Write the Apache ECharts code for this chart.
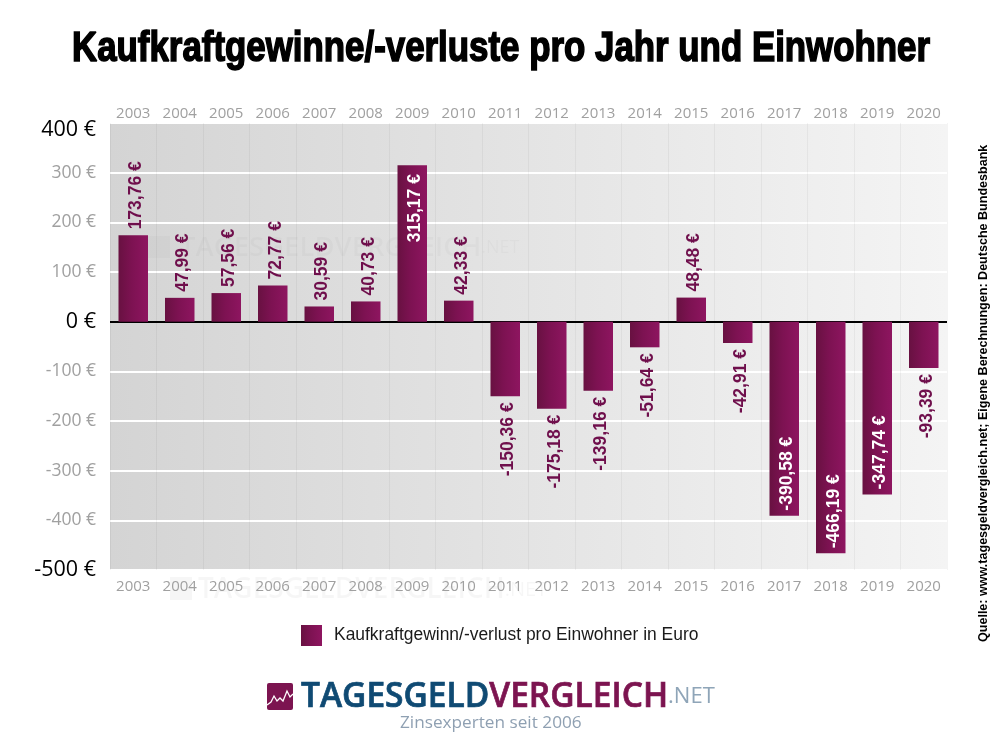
<!DOCTYPE html>
<html>
<head>
<meta charset="utf-8">
<title>Kaufkraftgewinne/-verluste</title>
<script src="https://cdn.jsdelivr.net/npm/echarts@6/dist/echarts.min.js"></script>
<style>
html, body { margin: 0; padding: 0; background: #fff; }
#charts { width: 1000px; height: 754px; }
</style>
</head>
<body>
<div id="charts"></div>
<script>
var years = ['2003', '2004', '2005', '2006', '2007', '2008', '2009', '2010', '2011', '2012', '2013', '2014', '2015', '2016', '2017', '2018', '2019', '2020'];
var values = [173.76, 47.99, 57.56, 72.77, 30.59, 40.73, 315.17, 42.33, -150.36, -175.18, -139.16, -51.64, 48.48, -42.91, -390.58, -466.19, -347.74, -93.39];
var seriesName = 'Kaufkraftgewinn/-verlust pro Einwohner in Euro';
var blackTicks = [0, -500];
var topTick = 400;

function euro(v) {
    return v.toFixed(2).replace('.', ',') + ' €';
}

// label sits inside the bar only for the long ones
function labelFor(v) {
    var inside = Math.abs(v) > 300;
    var pos;
    if (v >= 0) {
        pos = inside ? 'insideTop' : 'top';
    } else {
        pos = inside ? 'insideBottom' : 'bottom';
    }
    return {
        show: true,
        position: pos,
        distance: inside ? (v > 0 ? 9 : 5) : 6,
        offset: [0, 3], // rotated label, so this moves it to the right
        rotate: 90,
        align: (pos === 'top' || pos === 'insideBottom') ? 'left' : 'right',
        verticalAlign: 'middle',
        color: inside ? '#ffffff' : '#6f0f4c',
        fontFamily: 'Liberation Sans',
        fontWeight: 'bold',
        fontSize: 17.5,
        formatter: function (p) { return euro(p.value); }
    };
}

var barData = values.map(function (v) {
    return { value: v, label: labelFor(v) };
});

var barColor = new echarts.graphic.LinearGradient(0, 0, 1, 0, [
    { offset: 0, color: '#681141' },
    { offset: 0.45, color: '#7d1252' },
    { offset: 1, color: '#8e1560' }
]);

var myChart = echarts.init(document.getElementById('charts'));

myChart.setOption({
    animation: false,
    backgroundColor: '#ffffff',
    legend: {
        left: 296,
        top: 620,
        itemWidth: 21,
        itemHeight: 21,
        itemGap: 0,
        icon: 'rect',
        selectedMode: false,
        textStyle: { fontFamily: 'Liberation Sans', fontSize: 17.45, color: '#1a1a1a', padding: [0, 0, 0, 7] },
        data: [seriesName]
    },
    grid: {
        left: 110,
        right: 53,
        top: 123,
        bottom: 184,
        show: true,
        borderWidth: 0,
        backgroundColor: new echarts.graphic.LinearGradient(0, 0, 1, 0, [
            { offset: 0, color: '#d4d4d4' },
            { offset: 1, color: '#f4f4f4' }
        ])
    },
    xAxis: [{
        type: 'category',
        data: years,
        position: 'bottom',
        axisLine: { show: false, onZero: false },
        axisTick: { show: false },
        splitLine: { show: true, lineStyle: { color: 'rgba(0,0,0,0.045)', width: 1 } },
        axisLabel: { color: '#a0a0a0', fontFamily: 'Open Sans', fontSize: 15, margin: 9 }
    }, {
        type: 'category',
        data: years,
        position: 'top',
        axisLine: { show: false, onZero: false },
        axisTick: { show: false },
        axisLabel: { color: '#a0a0a0', fontFamily: 'Open Sans', fontSize: 15, margin: 2 }
    }],
    yAxis: {
        type: 'value',
        min: -500,
        max: 400,
        interval: 100,
        axisLine: { show: false },
        axisTick: { show: false },
        splitLine: { show: true, lineStyle: { color: '#ffffff', width: 2 } },
        axisLabel: {
            margin: 14,
            fontFamily: 'Open Sans',
            formatter: function (v) {
                if (v === topTick) {
                    return '{top|' + v + ' €}';
                }
                return blackTicks.indexOf(v) >= 0 ? '{big|' + v + ' €}' : '{small|' + v + ' €}';
            },
            rich: {
                top: { color: '#000000', fontSize: 21.5, fontFamily: 'Open Sans', padding: [14, 0, 0, 0] },
                big: { color: '#000000', fontSize: 21.5, fontFamily: 'Open Sans' },
                small: { color: '#a0a0a0', fontSize: 17.5, fontFamily: 'Open Sans' }
            }
        }
    },
    graphic: [
        // title squeezed, no Impact-like font here
        {
            type: 'text', x: 72, y: 28, scaleX: 0.83, scaleY: 1,
            style: {
                text: 'Kaufkraftgewinne/-verluste pro Jahr und Einwohner',
                fill: '#000', stroke: '#000', lineWidth: 1.6,
                font: 'bold 42px "Liberation Sans"'
            }
        },
        // watermarks
        { type: 'rect', z: 0, shape: { x: 148, y: 236, width: 22, height: 22 }, style: { fill: 'rgba(0,0,0,0.02)' } },
        {
            type: 'text', z: 0, x: 180, y: 234,
            style: {
                rich: {
                    a: { fill: 'rgba(0,0,0,0.022)', font: '600 27.5px "Open Sans"' },
                    b: { fill: 'rgba(0,0,0,0.022)', font: '400 18px "Open Sans"' }
                },
                text: '{a|TAGESGELDVERGLEICH}{b|.NET}'
            }
        },
        { type: 'rect', z: 0, shape: { x: 170, y: 577, width: 22, height: 23 }, style: { fill: 'rgba(0,0,0,0.035)' } },
        {
            type: 'text', z: 0, x: 198, y: 576,
            style: {
                rich: {
                    a: { fill: 'rgba(0,0,0,0.035)', font: '600 28px "Open Sans"' },
                    b: { fill: 'rgba(0,0,0,0.035)', font: '400 20px "Open Sans"' }
                },
                text: '{a|TAGESGELDVERGLEICH}{b|.NET}'
            }
        },
        // source, vertical on the right
        {
            type: 'text', x: 984, y: 642, rotation: Math.PI / 2,
            style: {
                text: 'Quelle: www.tagesgeldvergleich.net; Eigene Berechnungen: Deutsche Bundesbank',
                fill: '#000', font: 'bold 12.55px "Liberation Sans"', textAlign: 'left', textVerticalAlign: 'middle'
            }
        },
        // logo
        { type: 'rect', shape: { x: 267, y: 683, width: 26, height: 27, r: 2 }, style: { fill: '#7c1450' } },
        {
            type: 'polyline',
            shape: { points: [[267, 705], [271, 702], [274, 696], [277, 701], [280, 698], [283, 701], [287, 691], [290, 697], [293, 694]] },
            style: { stroke: '#fff', fill: null, lineWidth: 1.3 }
        },
        {
            type: 'text', x: 301, y: 680,
            style: {
                rich: {
                    a: { fill: '#0f4a73', stroke: '#0f4a73', lineWidth: 0.7, font: '600 33.5px "Open Sans"' },
                    b: { fill: '#7c1450', stroke: '#7c1450', lineWidth: 0.7, font: '600 33.5px "Open Sans"' },
                    c: { fill: '#8fa5b8', font: '400 22px "Open Sans"' }
                },
                text: '{a|TAGESGELD}{b|VERGLEICH}{c|.NET}'
            }
        },
        { type: 'text', x: 400, y: 715, style: { text: 'Zinsexperten seit 2006', fill: '#8fa0b2', font: '400 17.2px "Open Sans"' } }
    ],
    series: [{
        name: seriesName,
        type: 'bar',
        barWidth: 29.5,
        data: barData,
        itemStyle: { color: barColor },
        markLine: {
            silent: true,
            symbol: 'none',
            label: { show: false },
            lineStyle: { color: '#000', width: 2, type: 'solid' },
            z: 1,
            data: [{ yAxis: 0 }]
        }
    }]
});
</script>
</body>
</html>
